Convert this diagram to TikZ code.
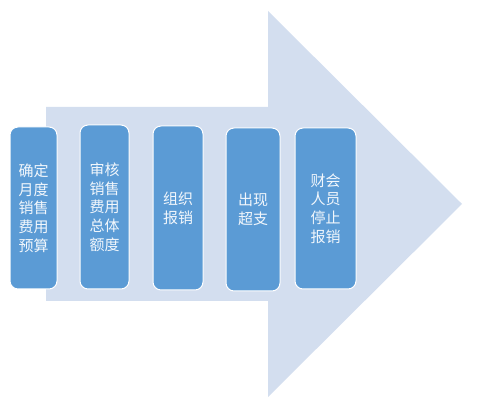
\documentclass[tikz,border=0pt]{standalone}
\usepackage{fontspec}
\newfontfamily\cjk{Noto Sans CJK SC}
\definecolor{arrowfill}{HTML}{D3DEEF}
\definecolor{stepfill}{HTML}{5B9BD5}
\begin{document}
\begin{tikzpicture}[x=1pt, y=1pt,
    stepbox/.style={draw=white, line width=1pt, fill=stepfill, rounded corners=8pt,
      inner sep=0pt, text=white!92!stepfill, align=center,
      font=\cjk\fontsize{15}{18.7}\selectfont}]
    \useasboundingbox (0,0) rectangle (503,406) ;
    \fill [arrowfill] (46,299) -- (268,299) -- (268,395) -- (462,202) -- (268,9) -- (268,105) -- (46,105) -- cycle ;
    \node [stepbox, minimum width=47, minimum height=162] (budget) at (33.5,198) {确定\\月度\\销售\\费用\\预算} ;
    \node [stepbox, minimum width=49, minimum height=164] (audit) at (104.5,199) {审核\\销售\\费用\\总体\\额度} ;
    \node [stepbox, minimum width=50, minimum height=164] (claim) at (178,198) {组织\\报销} ;
    \node [stepbox, minimum width=54, minimum height=163] (over) at (253,196.5) {出现\\超支} ;
    \node [stepbox, minimum width=61, minimum height=161] (stop) at (325.5,197.5) {财会\\人员\\停止\\报销} ;
\end{tikzpicture}
\end{document}
